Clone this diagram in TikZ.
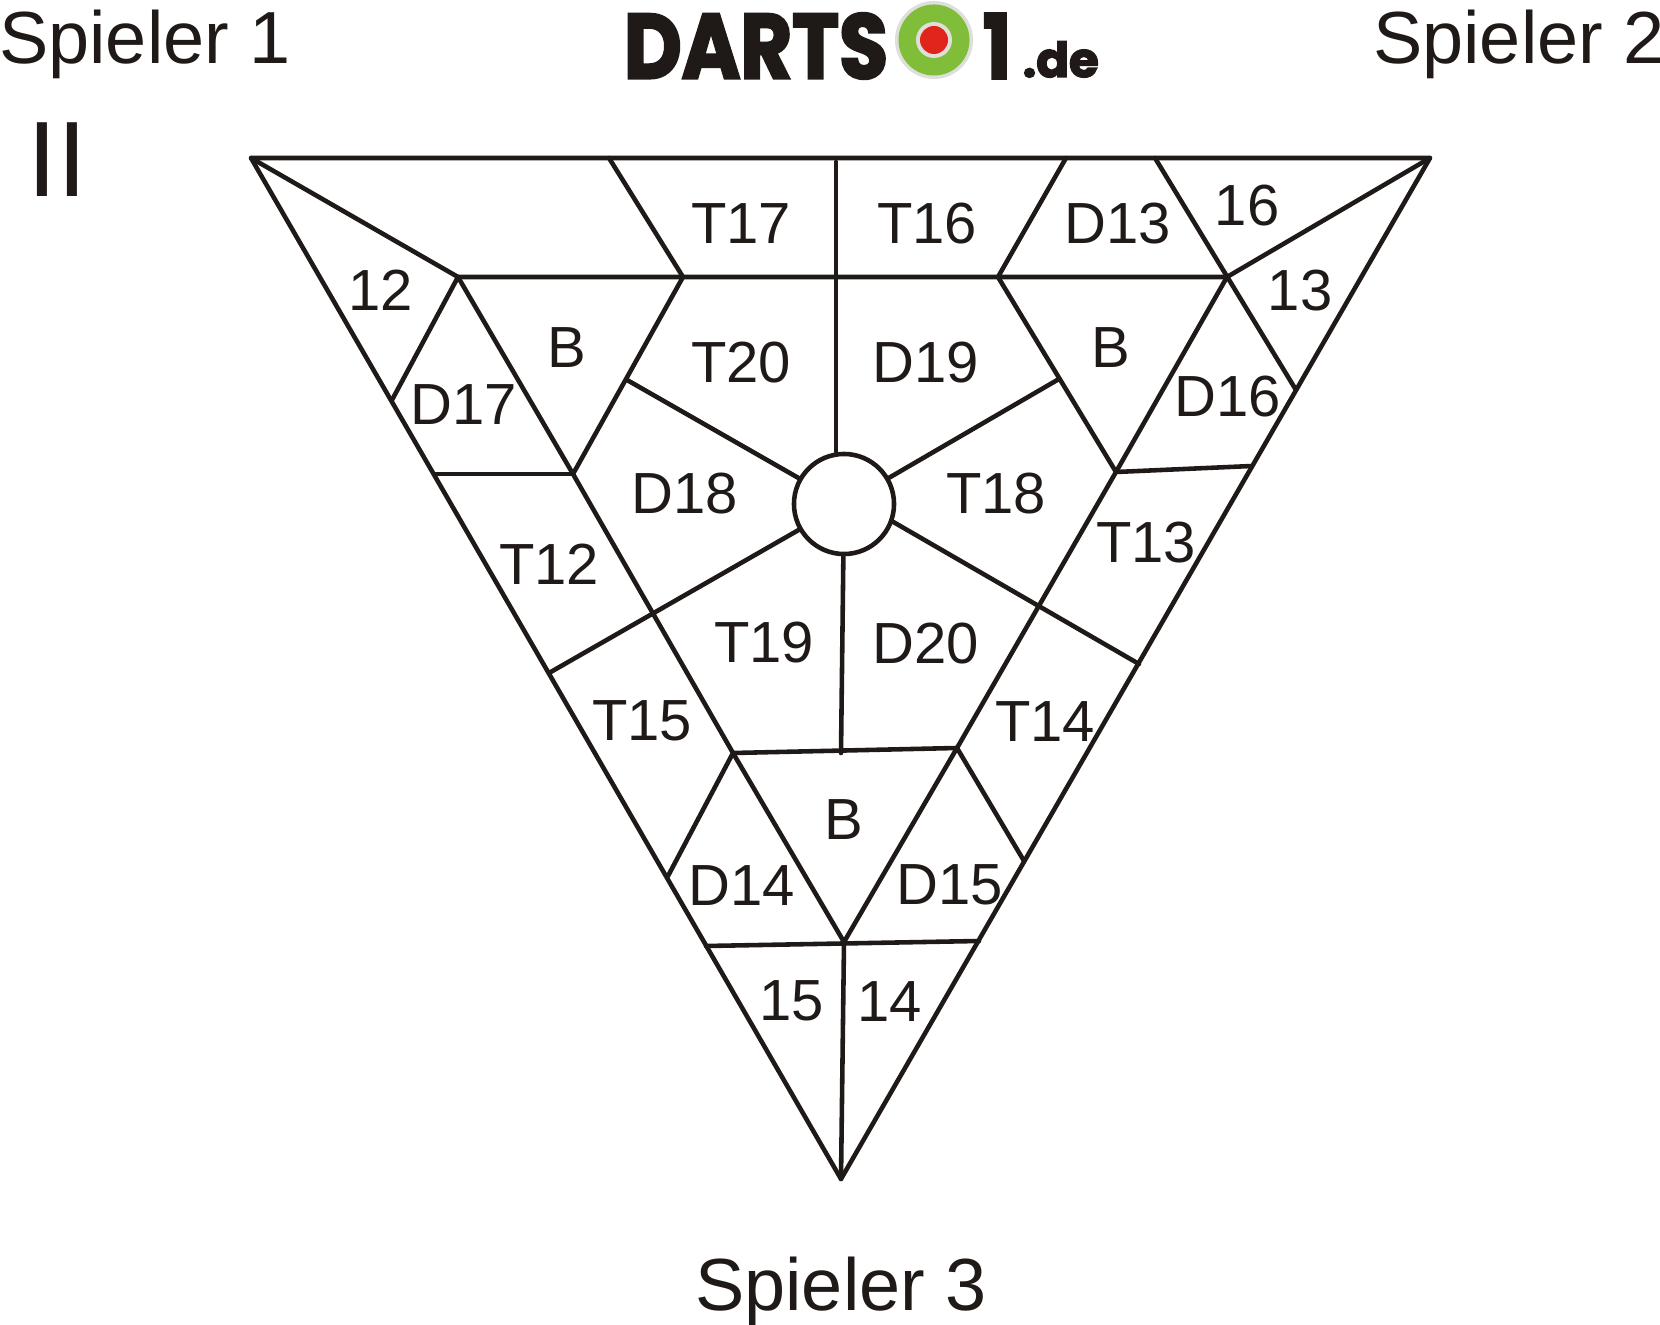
\documentclass[tikz,border=0pt]{standalone}
\usepackage{fontspec}
\setmainfont{Liberation Sans}
\newfontfamily\logofont[BoldFeatures={FakeBold=3}]{Poppins}
\definecolor{inkblack}{RGB}{31,26,23}
\definecolor{boardgreen}{RGB}{128,189,56}
\definecolor{boardred}{RGB}{224,38,28}
\definecolor{boardgray}{RGB}{222,222,218}

\begin{document}
\begin{tikzpicture}[x=0.01cm, y=-0.01cm,
			wire/.style   = {draw=inkblack, line width=1.3pt, line cap=round, line join=round},
			hub/.style    = {draw=inkblack, line width=1.3pt, circle, fill=white, minimum size=1.0cm, inner sep=0pt},
			field/.style  = {text=inkblack, inner sep=0pt, yshift=-0.3pt, font=\fontsize{16.5}{16.5}\selectfont},
			player/.style = {text=inkblack, inner sep=0pt, yshift=-0.3pt, font=\fontsize{21}{21}\selectfont, anchor=base},
			logo/.style   = {text=inkblack, inner sep=0pt, font=\logofont\bfseries},]

			\useasboundingbox (0,0) rectangle (1660,1325);

			%% CORNERS AND POINTS OF THE BOARD
			\coordinate (topleft) at (251,158);
			\coordinate (topright) at (1430,158);
			\coordinate (tip) at (841,1179);
			\coordinate (innerleft) at (458,277);
			\coordinate (innerright) at (1227,277);
			\coordinate (innerbottom) at (844,942);
			\coordinate (cutleft) at (683,277);
			\coordinate (cutright) at (998,277);
			\coordinate (midleft) at (573,474);
			\coordinate (midright) at (1116,472);
			\coordinate (lowleft) at (733,753);
			\coordinate (lowright) at (957,748);
			\coordinate (spoketop) at (836,162);

			%% OUTER TRIANGLE
			\draw[wire] (topleft) -- (topright) -- (tip) -- cycle;
			\draw[wire] (topleft) -- (innerleft) -- (innerright) -- (topright);

			%% INNER TRIANGLE
			\draw[wire] (innerleft) -- (midleft) -- (lowleft) -- (innerbottom);
			\draw[wire] (innerright) -- (midright) -- (lowright) -- (innerbottom);
			\draw[wire] (lowleft) -- (lowright);
			\draw[wire] (innerbottom) -- (tip);

			%% SHORT LINES
			\draw[wire] (609,158) -- (cutleft) -- (midleft);
			\draw[wire] (1066,158) -- (cutright) -- (midright);
			\draw[wire] (1155,158) -- (1296,390);
			\draw[wire] (innerleft) -- (392,400);
			\draw[wire] (436,474) -- (midleft);
			\draw[wire] (midright) -- (1252,466);
			\draw[wire] (lowleft) -- (668,876);
			\draw[wire] (lowright) -- (1024,861);
			\draw[wire] (706,946) -- (979,941);

			%% BULL AND SPOKES
			\node[hub] (bull) at (844,504) {};
			\draw[wire] (spoketop) -- (spoketop |- bull.north);
			\draw[wire] (bull) -- (627,380);
			\draw[wire] (bull) -- (1059,379);
			\draw[wire] (bull) -- (549,673);
			\draw[wire] (bull.-20) -- (1139,664);
			\draw[wire] (bull) -- (841,753);

			%% FIELDS
			\node[field] (n12) at (381,289) {12};
			\node[field] (t17) at (741,222) {T17};
			\node[field] (t16) at (927,222) {T16};
			\node[field] (d13) at (1118,222) {D13};
			\node[field] (n16) at (1247,204) {16};
			\node[field] (n13) at (1300,289) {13};
			\node[field] (bleft) at (567,346) {B};
			\node[field] (t20) at (741,361) {T20};
			\node[field] (d19) at (926,361) {D19};
			\node[field] (bright) at (1111,346) {B};
			\node[field] (d16) at (1228,395) {D16};
			\node[field] (d17) at (464,403) {D17};
			\node[field] (d18) at (685,492) {D18};
			\node[field] (t18) at (996,492) {T18};
			\node[field] (t12) at (549,563) {T12};
			\node[field] (t13) at (1146,541) {T13};
			\node[field] (t19) at (764,641) {T19};
			\node[field] (d20) at (926,642) {D20};
			\node[field] (t15) at (642,720) {T15};
			\node[field] (t14) at (1045,720) {T14};
			\node[field] (bbottom) at (844,818) {B};
			\node[field] (d14) at (742,884) {D14};
			\node[field] (d15) at (950,884) {D15};
			\node[field] (n15) at (792,1000) {15};
			\node[field] (n14) at (890,1000) {14};

			%% PLAYERS
			\node[player] (player1) at (145,62) {Spieler 1};
			\node[player] (player2) at (1519,62) {Spieler 2};
			\node[player] (player3) at (841,1309) {Spieler 3};
			\node[text=inkblack, inner sep=0pt, font=\fontsize{30.5}{30.5}\selectfont] (round) at (57,160) {II};

			%% LOGO
			\node[logo] (darts) at (756,46) {\resizebox{2.64cm}{0.65cm}{DARTS}};
			\node[circle, fill=boardgray, minimum size=0.78cm, inner sep=0pt] (disc) at (934,40) {};
			\node[circle, fill=boardgreen, minimum size=0.71cm, inner sep=0pt] (ring) at (934,40) {};
			\node[circle, fill=boardgray, minimum size=0.36cm, inner sep=0pt] (eye) at (934,40) {};
			\node[circle, fill=boardred, minimum size=0.28cm, inner sep=0pt] (bullseye) at (934,40) {};
			\node[logo] (one) at (997,46) {\resizebox{0.28cm}{0.65cm}{1}};
			\node[logo, anchor=base west] (domain) at (1022,77) {\resizebox{0.76cm}{!}{.de}};
			\end{tikzpicture}
\end{document}
